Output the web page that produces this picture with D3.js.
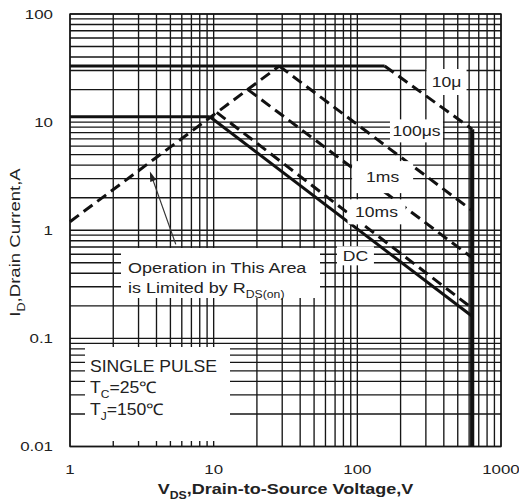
<!DOCTYPE html>
<html>
<head>
<meta charset="utf-8">
<script src="https://cdn.jsdelivr.net/npm/d3@7"></script>
<style>
  html, body { margin: 0; padding: 0; background: #fff; }
  svg { display: block; font-family: "Liberation Sans", Arial, sans-serif; }
</style>
</head>
<body>
<svg id="chart" width="519" height="503"></svg>
<script>
// ---- Safe operating area data (V_DS in volts, I_D in amperes) ----
const xTickValues = [1, 10, 100, 1000];
const xTickLabels = ["1", "10", "100", "1000"];
const yTickValues = [0.01, 0.1, 1, 10, 100];
const yTickLabels = ["0.01", "0.1", "1", "10", "100"];

const rdsLimit          = [[1, 1.2], [28.6, 33]];
const pulseCurrentLimit = [[1, 33], [155, 33]];
const dcCurrentLimit    = [[1, 11.2], [9.4, 11.2]];
const pulse10us         = [[155, 33], [630, 8.6]];
const pulse100us        = [[28.6, 33], [630, 1.52]];
const pulse1ms          = [[17.3, 20], [630, 0.557]];
const pulse10ms         = [[10.5, 12.3], [630, 0.19]];
const dcLine            = [[9.4, 11.2], [630, 0.16]];
const breakdownLimit    = [[630, 8.6], [630, 0.01]];

const curveNames = ["10μ", "100μs", "1ms", "10ms", "DC"];

// ---- Layout ----
const svg = d3.select("#chart");
const plot = { left: 70, top: 14, right: 501, bottom: 446.5 };
const ink = "#161616";
const textInk = "#222";

const x = d3.scaleLog().domain([1, 1000]).range([plot.left, plot.right]);
const y = d3.scaleLog().domain([0.01, 100]).range([plot.bottom, plot.top]);

// logarithmic grid: 1..9 in every decade
function logGrid(lo, hi) {
  const vals = [];
  for (let e = Math.log10(lo); e < Math.log10(hi); e++) {
    for (let k = 1; k <= 9; k++) vals.push(k * Math.pow(10, e));
  }
  vals.push(hi);
  return vals;
}
const grid = svg.append("g").attr("stroke", ink).attr("stroke-width", 1.35);
grid.selectAll("line.vx").data(logGrid(1, 1000)).join("line")
  .attr("x1", d => x(d)).attr("x2", d => x(d))
  .attr("y1", plot.top).attr("y2", plot.bottom);
grid.selectAll("line.hy").data(logGrid(0.01, 100)).join("line")
  .attr("x1", plot.left).attr("x2", plot.right)
  .attr("y1", d => y(d)).attr("y2", d => y(d));
svg.append("rect")
  .attr("x", plot.left).attr("y", plot.top)
  .attr("width", plot.right - plot.left).attr("height", plot.bottom - plot.top)
  .attr("fill", "none").attr("stroke", ink).attr("stroke-width", 1.4);

// text helper: parts [{t, sub}] with horizontally widened glyphs
function richText(parent, px, py, parts, opt) {
  const g = parent.append("g")
    .attr("transform", `translate(${px},${py}) ${opt.rotate ? "rotate(-90)" : ""} scale(${opt.sx || 1},1)`);
  const t = g.append("text")
    .attr("font-size", opt.size)
    .attr("font-weight", opt.bold ? "bold" : "normal")
    .attr("fill", textInk)
    .attr("text-anchor", opt.anchor || "start");
  let shifted = false;
  parts.forEach(p => {
    const s = t.append("tspan").text(p.t);
    if (p.sub && !shifted) { s.attr("dy", opt.size * 0.3).attr("font-size", opt.size * 0.68); shifted = true; }
    else if (p.sub) { s.attr("font-size", opt.size * 0.68); }
    else if (shifted) { s.attr("dy", -opt.size * 0.3); shifted = false; }
  });
  return g;
}

// white label panels inside the plot
const panelLayer = svg.append("g").attr("fill", "#fff");
panelLayer.append("rect").attr("x", 121).attr("y", 248).attr("width", 199).attr("height", 50);
panelLayer.append("rect").attr("x", 85).attr("y", 347).attr("width", 145).attr("height", 94);

// ---- SOA curves ----
const line = d3.line().x(d => x(d[0])).y(d => y(d[1]));
const curves = svg.append("g").attr("fill", "none").attr("stroke", "#111").attr("stroke-linecap", "butt");
const solid = [pulseCurrentLimit, dcCurrentLimit, dcLine];
const dashed = [rdsLimit, pulse10us, pulse100us, pulse1ms, pulse10ms];
curves.selectAll("path.solid").data(solid).join("path")
  .attr("d", line).attr("stroke-width", 3);
curves.selectAll("path.dash").data(dashed).join("path")
  .attr("d", line).attr("stroke-width", 3).attr("stroke-dasharray", "11,6");
curves.append("path").datum(breakdownLimit)
  .attr("d", line).attr("stroke-width", 4.2);

// curve labels on white panels
const labelAnchors = [[418, 23.5], [258, 8.3], [150, 3.1], [136, 1.48], [97, 0.58]];
const labelPanels = [[40, 26], [53, 23], [61, 32], [58, 25], [37, 19]];
curveNames.forEach((name, i) => {
  const cx = x(labelAnchors[i][0]), cy = y(labelAnchors[i][1]);
  svg.append("rect")
    .attr("x", cx - labelPanels[i][0] / 2).attr("y", cy - labelPanels[i][1] / 2)
    .attr("width", labelPanels[i][0]).attr("height", labelPanels[i][1])
    .attr("fill", "#fff");
  richText(svg, cx, cy + 5.2, [{ t: name }], { size: 15, sx: 1.17, anchor: "middle" });
});

// R_DS(on) annotation with arrow
richText(svg, 128, 273, [{ t: "Operation in This Area" }], { size: 15.5, sx: 1.16 });
richText(svg, 128, 293, [{ t: "is Limited by R" }, { t: "DS(on)", sub: true }], { size: 15.5, sx: 1.16 });
const arrowTail = [5.45, 0.74], arrowTip = [3.6, 3.5];
const ax0 = x(arrowTail[0]), ay0 = y(arrowTail[1]), ax1 = x(arrowTip[0]), ay1 = y(arrowTip[1]);
const ang = Math.atan2(ay1 - ay0, ax1 - ax0);
svg.append("line").attr("x1", ax0).attr("y1", ay0)
  .attr("x2", ax1 - 6 * Math.cos(ang)).attr("y2", ay1 - 6 * Math.sin(ang))
  .attr("stroke", "#333").attr("stroke-width", 1.2);
const headLen = 10, headHalf = 3.2;
const bx = ax1 - headLen * Math.cos(ang), by = ay1 - headLen * Math.sin(ang);
svg.append("path")
  .attr("d", `M${ax1},${ay1} L${bx - headHalf * Math.sin(ang)},${by + headHalf * Math.cos(ang)} L${bx + headHalf * Math.sin(ang)},${by - headHalf * Math.cos(ang)} Z`)
  .attr("fill", "#222");

// test conditions
richText(svg, 90, 371.5, [{ t: "SINGLE PULSE" }], { size: 16, sx: 1.1 });
richText(svg, 90, 393, [{ t: "T" }, { t: "C", sub: true }, { t: "=25℃" }], { size: 16, sx: 1.1 });
richText(svg, 90, 415, [{ t: "T" }, { t: "J", sub: true }, { t: "=150℃" }], { size: 16, sx: 1.1 });

// ---- Axes labels ----
xTickValues.forEach((v, i) => {
  richText(svg, x(v), 473.5, [{ t: xTickLabels[i] }], { size: 13.5, sx: 1.25, anchor: "middle" });
});
yTickValues.forEach((v, i) => {
  richText(svg, 53, y(v) + 4.5, [{ t: yTickLabels[i] }], { size: 13.5, sx: 1.25, anchor: "end" });
});
richText(svg, (plot.left + plot.right) / 2, 494,
  [{ t: "V" }, { t: "DS", sub: true }, { t: ",Drain-to-Source Voltage,V" }],
  { size: 15, sx: 1.2, bold: true, anchor: "middle" });
richText(svg, 20, 242.5,
  [{ t: "I" }, { t: "D", sub: true }, { t: ",Drain Current,A" }],
  { size: 15, sx: 1.24, anchor: "middle", rotate: true });
</script>
</body>
</html>
